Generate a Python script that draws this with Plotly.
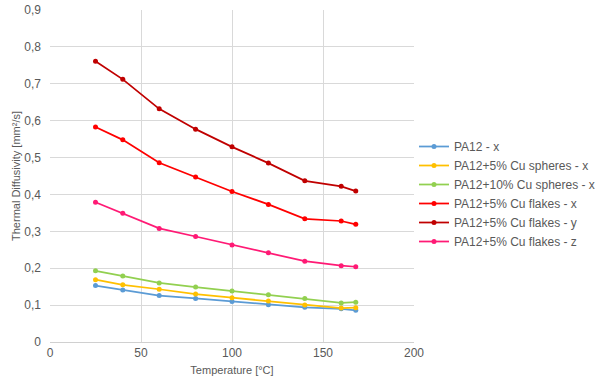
import plotly.graph_objects as go

temperature = [25, 40, 60, 80, 100, 120, 140, 160, 168]
pa12_x = [0.153, 0.141, 0.126, 0.118, 0.110, 0.101, 0.094, 0.090, 0.086]
cu5_spheres_x = [0.169, 0.155, 0.143, 0.130, 0.120, 0.111, 0.100, 0.092, 0.093]
cu10_spheres_x = [0.193, 0.179, 0.160, 0.149, 0.138, 0.128, 0.118, 0.106, 0.108]
cu5_flakes_x = [0.583, 0.548, 0.486, 0.447, 0.408, 0.373, 0.334, 0.328, 0.319]
cu5_flakes_y = [0.761, 0.712, 0.632, 0.577, 0.529, 0.485, 0.437, 0.422, 0.409]
cu5_flakes_z = [0.379, 0.349, 0.308, 0.286, 0.263, 0.242, 0.219, 0.207, 0.204]

series_names = ["PA12 - x", "PA12+5% Cu spheres - x", "PA12+10% Cu spheres - x",
                "PA12+5% Cu flakes - x", "PA12+5% Cu flakes - y", "PA12+5% Cu flakes - z"]
series_values = [pa12_x, cu5_spheres_x, cu10_spheres_x, cu5_flakes_x, cu5_flakes_y, cu5_flakes_z]
colors = ["#5B9BD5", "#FFC000", "#92D050", "#FF0000", "#C00000", "#FF1A75"]

y_tickvals = [0, 0.1, 0.2, 0.3, 0.4, 0.5, 0.6, 0.7, 0.8, 0.9]
y_ticktext = ["0", "0,1", "0,2", "0,3", "0,4", "0,5", "0,6", "0,7", "0,8", "0,9"]
x_tickvals = [0, 50, 100, 150, 200]

fig = go.Figure()
for name, vals, c in zip(series_names, series_values, colors):
    fig.add_trace(go.Scatter(x=temperature, y=vals, name=name, mode="lines+markers",
                             line=dict(color=c, width=1.75),
                             marker=dict(color=c, size=5)))

grey = "#595959"
fig.update_layout(
    width=600, height=388,
    margin=dict(l=50, r=184, t=10, b=46),
    plot_bgcolor="white", paper_bgcolor="white",
    font=dict(family="Liberation Sans, Arial, sans-serif", size=12, color=grey),
    xaxis=dict(range=[0, 200], tickvals=x_tickvals, showgrid=True, gridcolor="#D9D9D9",
               gridwidth=1, zeroline=False, showline=True, linecolor="#D0D0D0",
               automargin=False,
               title=dict(text="Temperature [°C]", font=dict(size=11), standoff=6),
               tickfont=dict(size=12), ticks=""),
    yaxis=dict(range=[0, 0.9], tickvals=y_tickvals, ticktext=y_ticktext, showgrid=True,
               gridcolor="#D9D9D9", gridwidth=1, zeroline=False, automargin=False,
               ticklabelstandoff=8,
               title=dict(text="Thermal Diffusivity [mm²/s]", font=dict(size=11), standoff=1),
               tickfont=dict(size=12), ticks=""),
    legend=dict(xref="container", yref="container", x=0.69, y=0.5,
                xanchor="left", yanchor="middle",
                font=dict(size=12, color=grey), bgcolor="rgba(0,0,0,0)",
                itemwidth=30, tracegroupgap=0),
)
fig.write_html("out.html", config={"displayModeBar": False},
               post_script="document.body.style.margin='0';")
